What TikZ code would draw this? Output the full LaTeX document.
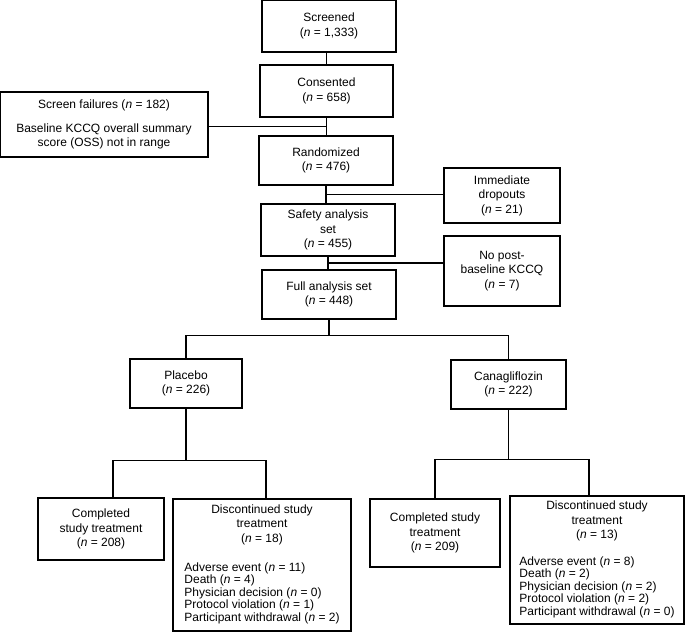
\documentclass[tikz,border=0pt]{standalone}
\usepackage{fontspec}
\setmainfont{Liberation Sans}
\usetikzlibrary{calc}
\newcommand{\nval}[1]{(\textit{n} = #1)}
\newcommand{\reasons}[1]{{\fontsize{12}{12.5}\selectfont\begin{tabular}[t]{@{}l@{}}#1\end{tabular}}}

\begin{document}
\begin{tikzpicture}[x=1pt, y=-1pt,
    box/.style={draw, line width=1.2pt, align=center, inner sep=0pt, font=\fontsize{12}{14.5}\selectfont},
    link/.style={line width=1.2pt}]
      \useasboundingbox (0,0) rectangle (685,632);

      % main column
      \node[box, minimum width=134, minimum height=52] (scr) at (329,26) {Screened\\\nval{1,333}};
      \node[box, minimum width=133, minimum height=52] (cons) at (326.5,91) {Consented\\\nval{658}};
      \node[box, minimum width=134, minimum height=49] (rand) at (326,160.5) {Randomized\\\nval{476}};
      \node[box, minimum width=134, minimum height=52] (safe) at (328,230) {Safety analysis\\set\\\nval{455}};
      \node[box, minimum width=134, minimum height=49] (full) at (329,294.5) {Full analysis set\\\nval{448}};

      % side boxes
      \node[box, minimum width=208, minimum height=65] (fail) at (104,124.5) {Screen failures \nval{182}\\[9.5pt]Baseline KCCQ overall summary\\score (OSS) not in range};
      \node[box, minimum width=116, minimum height=55] (drop) at (502,195.5) {Immediate\\dropouts\\\nval{21}};
      \node[box, minimum width=116, minimum height=70] (nopost) at (502,271) {No post-\\baseline KCCQ\\\nval{7}};

      % arms
      \node[box, minimum width=112, minimum height=49] (plac) at (186,383.5) {Placebo\\\nval{226}};
      \node[box, minimum width=115, minimum height=49] (cana) at (508.5,384.5) {Canagliflozin\\\nval{222}};

      \node[box, minimum width=126, minimum height=62] (compP) at (101,529) {Completed\\study treatment\\\nval{208}};
      \node[box, minimum width=178, minimum height=132] (discP) at (262,565) {Discontinued study\\treatment\\\nval{18}\\[14.5pt]\reasons{Adverse event \nval{11}\\Death \nval{4}\\Physician decision \nval{0}\\Protocol violation \nval{1}\\Participant withdrawal \nval{2}}};
      \node[box, minimum width=130, minimum height=68] (compC) at (435,533) {Completed study\\treatment\\\nval{209}};
      \node[box, minimum width=174, minimum height=128] (discC) at (597,560) {Discontinued study\\treatment\\\nval{13}\\[12pt]\reasons{Adverse event \nval{8}\\Death \nval{2}\\Physician decision \nval{2}\\Protocol violation \nval{2}\\Participant withdrawal \nval{0}}};

      % connectors
      \draw[link] (cons.north |- scr.south) -- (cons.north);
      \draw[link] (cons.south) -- (cons.south |- rand.north);
      \coordinate (m1) at ($(cons.south)!0.5!(cons.south |- rand.north)$);
      \draw[link] (fail.east |- m1) -- (m1);
      \draw[link] (rand.south) -- (rand.south |- safe.north);
      \coordinate (m2) at ($(rand.south)!0.5!(rand.south |- safe.north)$);
      \draw[link] (m2) -- (m2 -| drop.west);
      \draw[link] (safe.south) -- (safe.south |- full.north);
      \coordinate (m3) at ($(safe.south)!0.5!(safe.south |- full.north)$);
      \draw[link] (m3) -- (m3 -| nopost.west);

      \draw[link] (full.south) -- ++(0,16) coordinate (m4);
      \draw[link] (plac.north) |- (m4) -| (cana.north);
      \draw[link] (plac.south) -- ++(0,52) coordinate (m5);
      \draw[link] ([xshift=12pt]compP.north) |- (m5) -| ([xshift=4pt]discP.north);
      \draw[link] (cana.south) -- ++(0,50) coordinate (m6);
      \draw[link] (compC.north) |- (m6) -| ([xshift=-8pt]discC.north);

    \end{tikzpicture}
\end{document}
